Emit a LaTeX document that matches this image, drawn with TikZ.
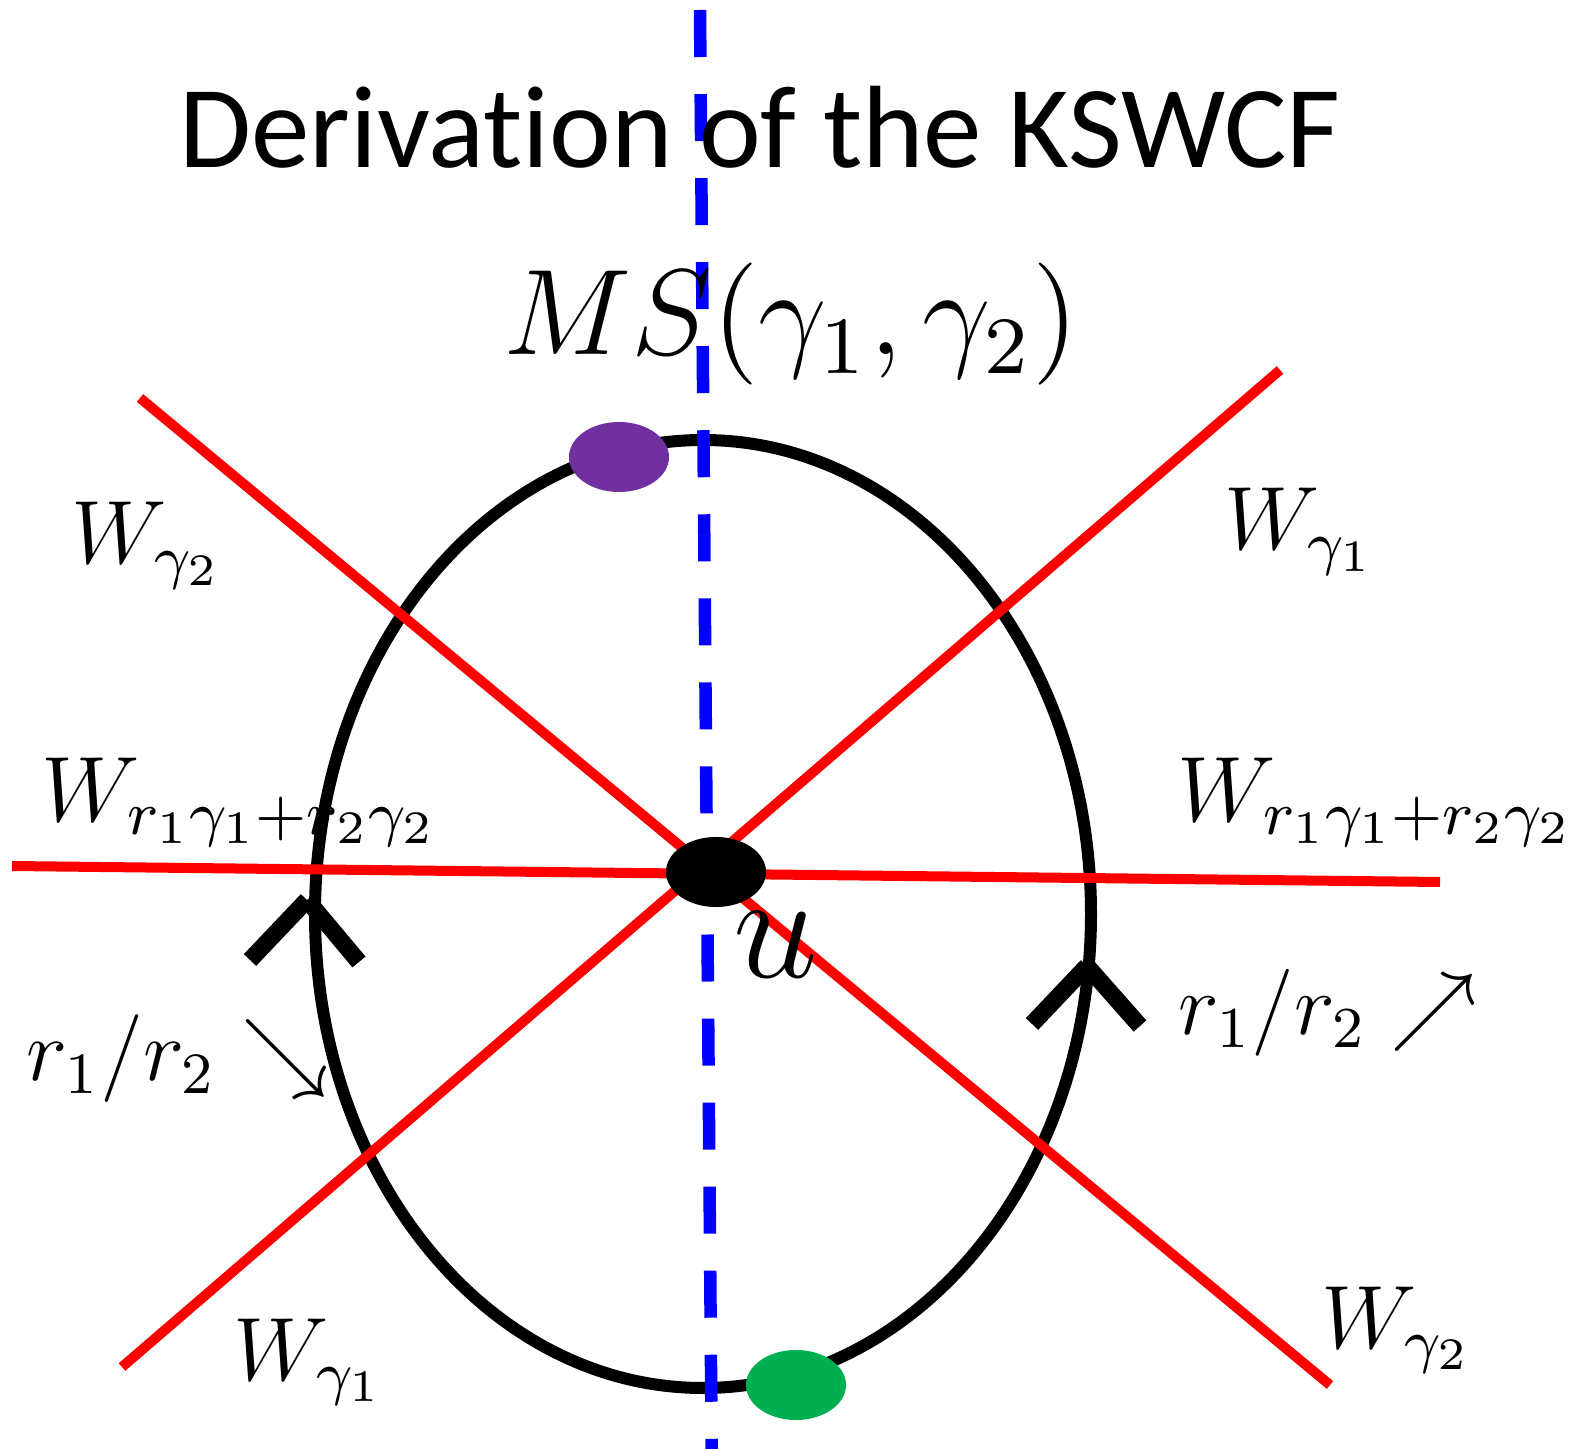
\RequirePackage{fix-cm}
\documentclass[tikz,border=0pt]{standalone}
\usepackage{fontspec}
\newfontfamily\titlefont[Ligatures=NoCommon]{Carlito}
\usetikzlibrary{shapes.geometric,positioning}
\definecolor{msviolet}{HTML}{7030A0}
\definecolor{msgreen}{HTML}{00B050}
\newcommand{\mathlbl}[2]{\scalebox{#1}{\fontsize{12}{14}\selectfont$#2$}}

\begin{document}
\begin{tikzpicture}[x=0.01cm,y=-0.01cm,
    wall/.style={red,line width=1mm},
    loopline/.style={black,line width=1.2mm},
    cutline/.style={blue,line width=1.25mm,dash pattern=on 4.7mm off 3.7mm},
    chevron/.style={black,line width=1.7mm},
    spot/.style={ellipse,minimum width=1cm,minimum height=0.7cm,inner sep=0pt},
    lbl/.style={inner sep=0pt,anchor=base west}]
    \useasboundingbox (0,0) rectangle (1581,1449);
    % loop around u
    \coordinate (c) at (703,914);
    \draw[loopline] (c) ellipse [x radius=388, y radius=474];
    % walls of marginal stability
    \coordinate (w2a) at (140,398);
    \coordinate (w2b) at (1330,1385);
    \coordinate (w1a) at (122,1367);
    \coordinate (w1b) at (1280,370);
    \coordinate (wsa) at (12,866);
    \coordinate (wsb) at (1440,882);
    \draw[wall] (w2a) -- (w2b);
    \draw[wall] (w1a) -- (w1b);
    \draw[wall] (wsa) -- (wsb);
    % branch cut
    \coordinate (cuttop) at (700,10);
    \coordinate (cutbot) at (712,1490);
    \draw[cutline] (cuttop) -- (cutbot);
    % orientation marks
    \coordinate (markl) at (307,900);
    \coordinate (markr) at (1087,966);
    \draw[chevron] (markl) -- ++(-57,60) (markl) -- ++(52,62);
    \draw[chevron] (markr) -- ++(-55,58) (markr) -- ++(53,60);
    % points
    \node[spot,fill=black] (u) at (716,872) {};
    \node[spot,fill=msviolet] (ms) at (619,457) {};
    \node[spot,fill=msgreen] (end) at (796,1385) {};
    % labels
    \node[font=\titlefont\fontsize{33.3}{40}\selectfont,anchor=base,inner sep=0pt] (title) at (760,168) {Derivation of the KSWCF};
    \node[lbl] (mslbl) at (503,355) {\mathlbl{2.89}{MS(\gamma_1,\gamma_2)}};
    \node[lbl] (wg2top) at (71,564) {\mathlbl{2.13}{W_{\gamma_2}}};
    \node[lbl] (wg1top) at (1224,550) {\mathlbl{2.13}{W_{\gamma_1}}};
    \node[lbl] (wsuml) at (41,821) {\mathlbl{2.2}{W_{r_1\gamma_1+r_2\gamma_2}}};
    \node[lbl] (wsumr) at (1177,821) {\mathlbl{2.2}{W_{r_1\gamma_1+r_2\gamma_2}}};
    \node[lbl] (wg1bot) at (233,1380) {\mathlbl{2.13}{W_{\gamma_1}}};
    \node[lbl] (wg2bot) at (1321,1348) {\mathlbl{2.13}{W_{\gamma_2}}};
    \node[lbl] (ulbl) at (733,978) {\mathlbl{3.6}{u}};
    \node[lbl] (ratiol) at (26,1080) {\mathlbl{2.08}{r_1/r_2 \searrow}};
    \node[lbl] (ratior) at (1178,1034) {\mathlbl{2.06}{r_1/r_2 \nearrow}};
\end{tikzpicture}
\end{document}
